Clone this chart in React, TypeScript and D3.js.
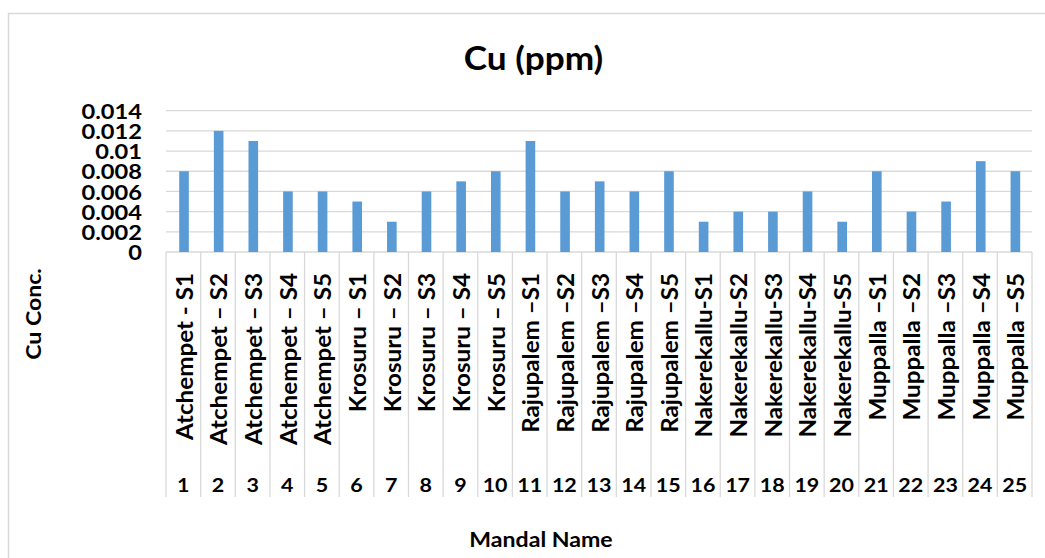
import React from "react";
import * as d3 from "d3";

const names = [
  "Atchempet - S1", "Atchempet – S2", "Atchempet – S3", "Atchempet – S4", "Atchempet – S5",
  "Krosuru – S1", "Krosuru – S2", "Krosuru – S3", "Krosuru – S4", "Krosuru – S5",
  "Rajupalem  –S1", "Rajupalem  –S2", "Rajupalem  –S3", "Rajupalem  –S4", "Rajupalem  –S5",
  "Nakerekallu-S1", "Nakerekallu-S2", "Nakerekallu-S3", "Nakerekallu-S4", "Nakerekallu-S5",
  "Muppalla  –S1", "Muppalla  –S2", "Muppalla  –S3", "Muppalla  –S4", "Muppalla  –S5",
];
const numbers = ["1","2","3","4","5","6","7","8","9","10","11","12","13","14","15","16","17","18","19","20","21","22","23","24","25"];
const values = [
  0.008, 0.012, 0.011, 0.006, 0.006,
  0.005, 0.003, 0.006, 0.007, 0.008,
  0.011, 0.006, 0.007, 0.006, 0.008,
  0.003, 0.004, 0.004, 0.006, 0.003,
  0.008, 0.004, 0.005, 0.009, 0.008,
];
const yTicks = [0, 0.002, 0.004, 0.006, 0.008, 0.01, 0.012, 0.014];
const yTickLabels = ["0", "0.002", "0.004", "0.006", "0.008", "0.01", "0.012", "0.014"];

const W = 1045, H = 558;
const plotL = 166, plotR = 1032, plotT = 110.7, plotB = 252;
const catBottom = 497;
const FONT = "Lato, 'Open Sans', sans-serif";
const BAR = "#5B9BD5";
const GRID = "#D9D9D9";
const SX = 1.1;

function T(props: { x: number; y: number; rot?: number; size: number; anchor?: string; children: React.ReactNode }) {
  const { x, y, rot = 0, size, anchor = "start", children } = props;
  return (
    <text
      transform={`translate(${x},${y}) rotate(${rot}) scale(${SX},1)`}
      textAnchor={anchor}
      fontSize={size}
      fontWeight="bold"
      fill="#000"
    >
      {children}
    </text>
  );
}

export default function App() {
  const x = d3.scaleBand<number>().domain(d3.range(values.length)).range([plotL, plotR]).paddingInner(0).paddingOuter(0);
  const y = d3.scaleLinear().domain([0, 0.014]).range([plotB, plotT]);
  const bw = x.bandwidth() / 3.6;
  const bounds = d3.range(values.length + 1).map((i) => plotL + i * x.bandwidth());
  return (
    <svg width={W} height={H} style={{ position: "absolute", left: 0, top: 0, background: "#fff" }} fontFamily={FONT}>
      <rect x={0} y={0} width={W} height={H} fill="#fff" />
      <rect x={8.5} y={13.5} width={1200} height={700} fill="none" stroke={GRID} strokeWidth={1.5} />
      <T x={533.5} y={70} size={32} anchor="middle">Cu (ppm)</T>
      {yTicks.map((t, i) => (
        <line key={i} x1={plotL} x2={plotR} y1={y(t)} y2={y(t)} stroke={GRID} strokeWidth={1.3} />
      ))}
      {yTicks.map((t, i) => (
        <T key={i} x={142} y={y(t) + 8.2} size={21.5} anchor="end">{yTickLabels[i]}</T>
      ))}
      {values.map((v, i) => (
        <rect key={i} x={x(i)! + x.bandwidth() / 2 - bw / 2 + 0.7} width={bw} y={y(v)} height={y(0) - y(v)} fill={BAR} />
      ))}
      {bounds.map((b, i) => (
        <line key={i} x1={b} x2={b} y1={plotB} y2={catBottom} stroke={GRID} strokeWidth={1.3} />
      ))}
      {names.map((n, i) => (
        <T key={i} x={x(i)! + x.bandwidth() / 2 + 9.5} y={273} rot={-90} size={22} anchor="end">{n}</T>
      ))}
      {numbers.map((n, i) => (
        <T key={i} x={x(i)! + x.bandwidth() / 2} y={491.7} size={19.5} anchor="middle">{n}</T>
      ))}
      <T x={41} y={314} rot={-90} size={21} anchor="middle">Cu Conc.</T>
      <T x={541} y={546.7} size={21} anchor="middle">Mandal Name</T>
    </svg>
  );
}
